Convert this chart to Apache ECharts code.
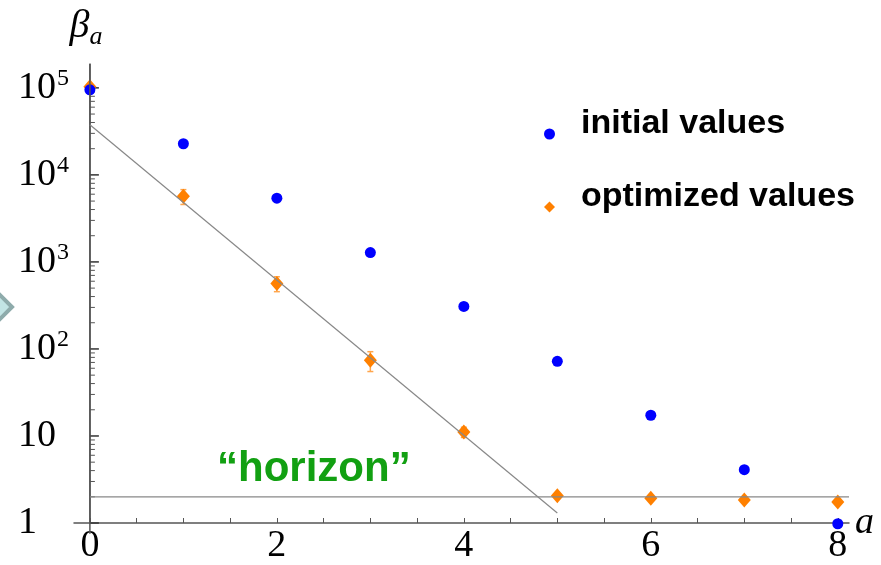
<!DOCTYPE html>
<html lang="en">
<head>
  <meta charset="UTF-8">
  <title>beta_a initial vs optimized</title>
  <script src="https://cdn.jsdelivr.net/npm/echarts@6/dist/echarts.min.js"></script>
</head>
<body style="margin:0;">
  <div id="main" style="width: 881px;height:565px;"></div>
  <script type="text/javascript">
    // data
    var aValues = [0, 1, 2, 3, 4, 5, 6, 7, 8];
    var initialValues = [95000, 22800, 5400, 1280, 308, 72, 17.3, 4.1, 0.98];
    var optimizedValues = [103000, 5670, 565, 74, 11.1, 2.06, 1.92, 1.84, 1.74];
    var optimizedErrors = [9000, 1100, 110, 19, 1.5, 0, 0, 0, 0];
    var fitLine = [[0, 37700], [5, 1.3]];
    var horizonLine = [[0, 2], [8.12, 2]];

    // axis ticks and labels
    var xTickValues = [0, 0.5, 1, 1.5, 2, 2.5, 3, 3.5, 4, 4.5, 5, 5.5, 6, 6.5, 7, 7.5, 8];
    var xLabelValues = [0, 2, 4, 6, 8];
    var yMajorTicks = [1, 10, 100, 1000, 10000, 100000];
    var yMinorMultipliers = [2, 3, 4, 5, 6, 7, 8, 9];
    var yMin = 1, yMax = 188000;

    var yTicks = [];  // [value, tick length]
    yMajorTicks.forEach(function (p) {
      yTicks.push([p, 9]);
      yMinorMultipliers.forEach(function (m) {
        if (p * m < yMax) yTicks.push([p * m, 5]);
      });
    });

    var myChart = echarts.init(document.getElementById('main'));

    var serif = 'Liberation Serif';
    var sans = 'Liberation Sans';

    var option = {
      backgroundColor: '#fff',
      animation: false,
      grid: { left: 74, right: 32, top: 64, bottom: 41 },
      legend: {
        orient: 'vertical',
        left: 539,
        top: 102,
        itemWidth: 11,
        itemHeight: 11,
        itemGap: 39,
        formatter: function (name) { return '{t|' + name + '}'; },
        textStyle: {
          rich: {
            t: {
              fontFamily: sans,
              fontWeight: 'bold',
              fontSize: 34,
              color: '#000',
              padding: [0, 0, 20, 21]
            }
          }
        },
        data: [
          { name: 'initial values', icon: 'circle' },
          { name: 'optimized values', icon: 'diamond' }
        ]
      },
      xAxis: {
        type: 'value',
        min: -0.17,
        max: 8.12,
        name: 'a',
        nameLocation: 'end',
        nameGap: 6,
        nameTextStyle: {
          fontFamily: serif, fontStyle: 'italic', fontSize: 38, color: '#000',
          padding: [6, 0, 0, 0]
        },
        axisLine: { onZero: false, lineStyle: { color: '#555', width: 1.5 } },
        axisTick: { inside: true, length: 5, customValues: xTickValues, lineStyle: { color: '#555' } },
        axisLabel: {
          customValues: xLabelValues,
          fontFamily: serif, fontSize: 38, color: '#000', margin: 4
        },
        splitLine: { show: false }
      },
      yAxis: {
        type: 'log',
        logBase: 10,
        min: yMin,
        max: yMax,
        position: 'left',
        offset: -16,  // the axis sits at a = 0, 16px inside the grid edge
        name: '{b|β}{s|a}',
        nameLocation: 'end',
        nameGap: 14,
        nameTextStyle: {
          padding: [0, 8, 0, 0],
          rich: {
            b: { fontFamily: serif, fontStyle: 'italic', fontSize: 40, color: '#000' },
            s: { fontFamily: serif, fontStyle: 'italic', fontSize: 26, color: '#000', padding: [22, 0, 0, 0] }
          }
        },
        axisLine: { show: true, onZero: false, lineStyle: { color: '#555', width: 1.5 } },
        axisTick: { show: false },
        axisLabel: {
          align: 'left',
          margin: 72,
          formatter: function (v) {
            var e = Math.round(Math.log10(v));
            if (e === 0) return '{b|1}';
            if (e === 1) return '{b|10}';
            return '{b|10}{s|' + e + '}';
          },
          rich: {
            b: { fontFamily: serif, fontSize: 38, color: '#000' },
            s: { fontFamily: serif, fontSize: 24, color: '#000', padding: [0, 0, 18, 1] }
          }
        },
        splitLine: { show: false }
      },
      series: [
        {
          // y axis line at a = 0 (runs a little below 1 as in the original)
          name: 'yAxisLine',
          type: 'line',
          data: [[0, 0.75], [0, yMax]],
          symbol: 'none',
          lineStyle: { color: '#555', width: 1.5 },
          clip: false,
          silent: true
        },
        {
          // major and minor log ticks on the y axis
          name: 'yTicks',
          type: 'custom',
          data: yTicks.map(function (t) { return [0, t[0], t[1]]; }),
          encode: { x: 0, y: 1 },
          renderItem: function (params, api) {
            var p = api.coord([api.value(0), api.value(1)]);
            var len = api.value(2);
            return {
              type: 'line',
              shape: { x1: p[0], y1: p[1], x2: p[0] + len, y2: p[1] },
              style: { stroke: len > 6 ? '#333' : '#555', lineWidth: len > 6 ? 1.5 : 1 }
            };
          },
          silent: true
        },
        {
          name: 'fit',
          type: 'line',
          data: fitLine,
          symbol: 'none',
          lineStyle: { color: '#888', width: 1.2 },
          silent: true
        },
        {
          name: 'horizon',
          type: 'line',
          data: horizonLine,
          symbol: 'none',
          lineStyle: { color: '#888', width: 1.2 },
          silent: true
        },
        {
          name: 'errors',
          type: 'custom',
          data: aValues.map(function (a, i) { return [a, optimizedValues[i], optimizedErrors[i]]; }),
          encode: { x: 0, y: 1 },
          renderItem: function (params, api) {
            var e = api.value(2);
            if (!e) return null;
            var x = api.value(0), v = api.value(1);
            var hi = api.coord([x, v + e]);
            var lo = api.coord([x, v - e]);
            var st = { stroke: '#ffa64d', lineWidth: 1.5 };
            return {
              type: 'group',
              children: [
                { type: 'line', shape: { x1: hi[0], y1: hi[1], x2: lo[0], y2: lo[1] }, style: st },
                { type: 'line', shape: { x1: hi[0] - 3, y1: hi[1], x2: hi[0] + 3, y2: hi[1] }, style: st },
                { type: 'line', shape: { x1: lo[0] - 3, y1: lo[1], x2: lo[0] + 3, y2: lo[1] }, style: st }
              ]
            };
          },
          clip: false,
          silent: true
        },
        {
          name: 'optimized values',
          type: 'scatter',
          data: aValues.map(function (a, i) { return [a, optimizedValues[i]]; }),
          symbol: 'diamond',
          symbolSize: [13, 15],
          itemStyle: { color: '#ff8000', opacity: 1 },
          clip: false
        },
        {
          name: 'initial values',
          type: 'scatter',
          data: aValues.map(function (a, i) { return [a, initialValues[i]]; }),
          symbol: 'circle',
          symbolSize: 11,
          itemStyle: { color: '#0000ff', opacity: 1 },
          clip: false
        }
      ],
      graphic: [
        {
          type: 'text',
          left: 217,
          top: 448,
          style: {
            text: '\u201Chorizon\u201D',
            fontFamily: sans,
            fontWeight: 'bold',
            fontSize: 42,
            fill: '#12a012'
          }
        },
        {
          type: 'polygon',
          shape: { points: [[-22, 307], [-5, 290], [12, 307], [-5, 324]] },
          style: { fill: '#c2e4e4', stroke: '#8eabab', lineWidth: 4 }
        }
      ]
    };

    myChart.setOption(option);
  </script>
</body>
</html>
